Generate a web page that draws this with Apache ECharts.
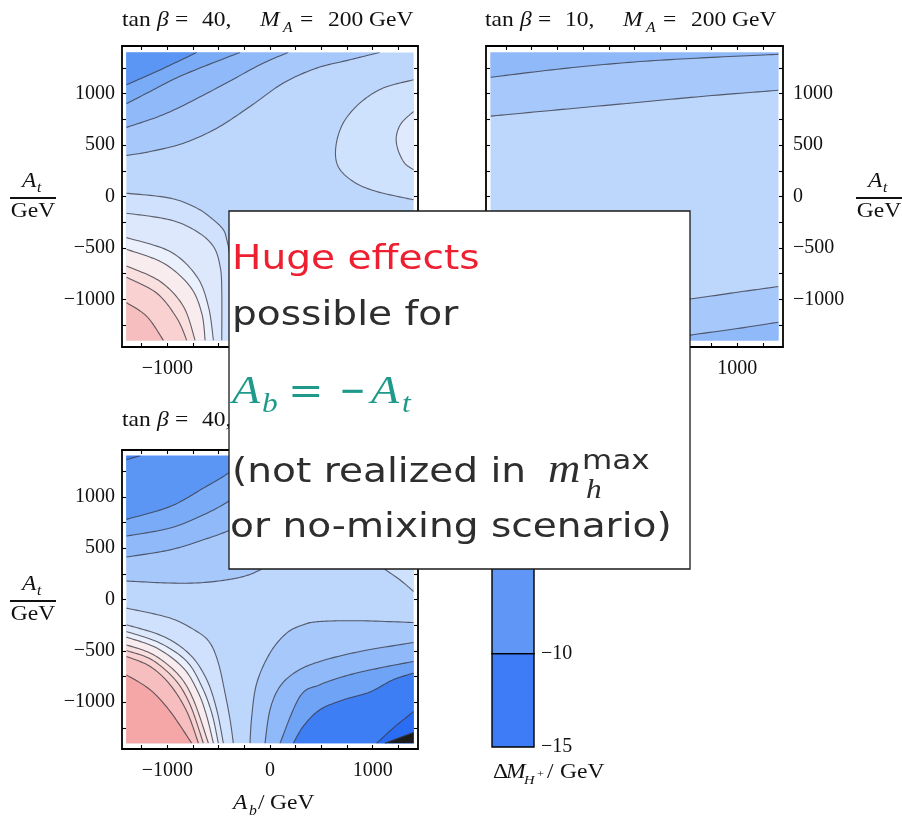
<!DOCTYPE html>
<html>
<head>
<meta charset="utf-8">
<script src="https://cdn.jsdelivr.net/npm/echarts@6/dist/echarts.min.js"></script>
<style>
  html, body { margin: 0; padding: 0; background: #fff; }
  #chart { width: 902px; height: 816px; }
</style>
</head>
<body>
<div id="chart"></div>
<script>
// Scan limits of A_b and A_t (GeV)
const EDGE = 1400;
const TL = [-EDGE, EDGE], TR = [EDGE, EDGE], BL = [-EDGE, -EDGE], BR = [EDGE, -EDGE];
const scanSquare = [BL, BR, TR, TL];

// Frame ticks and labels (GeV)
const tickValues = [-1250, -1000, -750, -500, -250, 0, 250, 500, 750, 1000, 1250];
const xLabelValues = [-1000, 0, 1000];
const yLabelValues = [-1000, -500, 0, 500, 1000];

// ---- tan β = 40, M_A = 200 GeV : contour lines, points [A_b, A_t] ----
const a_A  = [[-1400, 1085], [-1070, 1230], [-713, 1400]];
const a_B  = [[-1400, 900], [-1167, 1021], [-842, 1183], [-292, 1400]];
const a_C  = [[-1400, 671], [-1004, 810], [-518, 1053], [-97, 1280], [178, 1400]];
const a_D  = [[-1400, 398], [-1166, 437], [-842, 518], [-518, 664], [-194, 875], [130, 1102], [454, 1247], [778, 1328], [1069, 1400]];
const a_E  = [[1400, 1134], [1102, 1053], [875, 907], [713, 713], [642, 486], [664, 292], [810, 146], [1037, 49], [1400, -32]];
const a_F  = [[1400, 826], [1280, 713], [1231, 583], [1247, 454], [1312, 324], [1400, 259]];
const a_G  = [[-1400, 32], [-973, -16], [-713, -113], [-551, -227], [-454, -324], [-421, -421], [-395, -550], [-370, -800], [-355, -1100], [-350, -1400]];
const a_L1 = [[-1400, -162], [-973, -227], [-713, -340], [-551, -486], [-486, -680], [-470, -907], [-470, -1400]];
const a_L2 = [[-1400, -399], [-973, -535], [-713, -778], [-600, -1069], [-551, -1400]];
const a_L3 = [[-1400, -512], [-1037, -648], [-778, -875], [-665, -1134], [-632, -1400]];
const a_L4 = [[-1400, -674], [-1069, -826], [-843, -1069], [-729, -1400]];
const a_L5 = [[-1400, -784], [-1102, -940], [-907, -1183], [-810, -1400]];
const a_L6 = [[-1400, -1030], [-1199, -1166], [-1037, -1400]];

// ---- tan β = 10, M_A = 200 GeV ----
const b_T1 = [[-1400, 1158], [-700, 1242], [0, 1307], [700, 1349], [1400, 1381]];
const b_T2 = [[-1400, 781], [-700, 846], [0, 911], [700, 976], [1400, 1032]];
const b_B1 = [[-1400, -1250], [-700, -1130], [0, -1050], [540, -995], [1000, -930], [1400, -875]];
const b_B2 = [[220, -1400], [540, -1347], [1000, -1283], [1400, -1221]];

// ---- tan β = 40 (lower panel) ----
const c_A  = [[-1400, 1360], [-1265, 1400]];
const c_B  = [[-1400, 780], [-973, 905], [-649, 1084], [-406, 1230], [-200, 1400]];
const c_C  = [[-1400, 618], [-973, 695], [-649, 824], [-406, 953], [-200, 1100], [0, 1300], [80, 1400]];
const c_D  = [[-1400, 413], [-973, 483], [-649, 581], [-389, 678], [-200, 800], [0, 1000], [200, 1250], [320, 1400]];
const c_E  = [[-1400, 180], [-973, 160], [-649, 165], [-324, 208], [-129, 272], [0, 360], [150, 520], [300, 800], [450, 1100], [600, 1400]];
const c_F  = [[800, 1400], [830, 1100], [900, 750], [1000, 480], [1070, 338], [1265, 192], [1400, 78]];
const c_G  = [[-1400, -84], [-973, -181], [-713, -311], [-584, -424], [-503, -619], [-438, -911], [-389, -1170], [-357, -1400]];
const c_Q1 = [[-1400, -246], [-1038, -360], [-778, -538], [-616, -781], [-519, -1073], [-454, -1400]];
const c_Q2 = [[-1400, -311], [-1070, -425], [-811, -603], [-665, -846], [-567, -1106], [-503, -1400]];
const c_Q3 = [[-1400, -366], [-1102, -473], [-843, -668], [-697, -911], [-616, -1138], [-551, -1400]];
const c_Q4 = [[-1400, -441], [-1135, -538], [-892, -733], [-746, -976], [-600, -1400]];
const c_Q5 = [[-1400, -496], [-1151, -587], [-924, -781], [-778, -1025], [-649, -1400]];
const c_Q6 = [[-1400, -554], [-1167, -652], [-973, -830], [-811, -1089], [-697, -1400]];
const c_Q7 = [[-1400, -733], [-1167, -879], [-973, -1089], [-762, -1400]];
const c_R1 = [[-195, -1400], [-178, -1138], [-129, -813], [0, -521], [162, -327], [324, -246], [486, -214], [876, -207], [1400, -224]];
const c_R2 = [[-49, -1400], [0, -1073], [97, -846], [259, -700], [486, -603], [876, -506], [1400, -418]];
const c_R3 = [[97, -1400], [292, -943], [486, -830], [750, -740], [1050, -670], [1400, -603]];
const c_R4 = [[227, -1400], [324, -1235], [486, -1073], [720, -975], [973, -900], [1200, -781], [1400, -716]];
const c_R5 = [[1038, -1400], [1200, -1252], [1400, -1089]];
const c_R6 = [[1119, -1400], [1400, -1294]];

// ---- colour bar: ΔM_{H+} levels (GeV) ----
const barLevels = [-15, -10, -5, 0];
const barLabelValues = [-15, -10, -5, 0];

// Band fill colours
const PAL = {
  base: '#bdd7fc', b1: '#a7c8fa', b2: '#8fb9f8', b3: '#79abf6', b4: '#5c96f4', b5: '#4283f4',
  d3: '#6fa3f6', d4: '#3e7ef5', d5: '#2a6cf4', black: '#1c1c1c',
  lobe1: '#cfe2fd', lobe2: '#dfeafe',
  l1: '#cfe1fd', l2: '#dde8fd', l3: '#ebf0fd', l4: '#f8ecef', l5: '#fadfdf', l6: '#f9d1d1', l7: '#f6bebe', l8: '#f5a6a6'
};
const barColors = ['#3d7cf6', '#6097f6', '#8fb9f8'];

// Band lists: [contour, corners closing the region, colour key], painted in order
const aBands = [
  [scanSquare, null, 'base'],
  [a_D, [TL], 'b1'], [a_C, [TL], 'b2'], [a_B, [TL], 'b3'], [a_A, [TL], 'b4'],
  [a_E, [], 'lobe1'], [a_F, [], 'lobe2'],
  [a_G, [BL], 'l1'], [a_L1, [BL], 'l2'], [a_L2, [BL], 'l3'], [a_L3, [BL], 'l4'],
  [a_L4, [BL], 'l5'], [a_L5, [BL], 'l6'], [a_L6, [BL], 'l7']
];
const bBands = [
  [scanSquare, null, 'base'],
  [b_T2, [TR, TL], 'b1'], [b_T1, [TR, TL], 'b2'],
  [b_B1, [BR, BL], 'b1'], [b_B2, [BR], 'b2']
];
const cBands = [
  [scanSquare, null, 'base'],
  [c_E, [TL], 'b1'], [c_D, [TL], 'b2'], [c_C, [TL], 'b3'], [c_B, [TL], 'b4'], [c_A, [TL], 'b5'],
  [c_F, [TR], 'lobe1'],
  [c_G, [BL], 'l1'], [c_Q1, [BL], 'l2'], [c_Q2, [BL], 'l3'], [c_Q3, [BL], 'l4'],
  [c_Q4, [BL], 'l5'], [c_Q5, [BL], 'l6'], [c_Q6, [BL], 'l7'], [c_Q7, [BL], 'l8'],
  [c_R1, [BR], 'b1'], [c_R2, [BR], 'b2'], [c_R3, [BR], 'd3'], [c_R4, [BR], 'd4'],
  [c_R5, [BR], 'd5'], [c_R6, [BR], 'black']
];

const SERIF = 'Liberation Serif';
const SANS = 'DejaVu Sans';
const LINE_STROKE = 'rgba(60,60,70,0.8)';
const minus = v => (v < 0 ? '\u2212' + Math.abs(v) : String(v));

// Catmull-Rom sampling of a pixel polyline so the contour reads as a smooth curve
function smoothPoints(pts, steps) {
  if (pts.length < 3) return pts.slice();
  const out = [pts[0]];
  for (let i = 0; i < pts.length - 1; i++) {
    const p0 = pts[Math.max(i - 1, 0)], p1 = pts[i], p2 = pts[i + 1], p3 = pts[Math.min(i + 2, pts.length - 1)];
    for (let s = 1; s <= steps; s++) {
      const t = s / steps, t2 = t * t, t3 = t2 * t;
      out.push([0, 1].map(k => 0.5 * (2 * p1[k] + (p2[k] - p0[k]) * t +
        (2 * p0[k] - 5 * p1[k] + 4 * p2[k] - p3[k]) * t2 + (3 * p1[k] - p0[k] - 3 * p2[k] + p3[k]) * t3)));
    }
  }
  return out;
}

function contourSeries(idx, bands) {
  return {
    type: 'custom', coordinateSystem: 'cartesian2d',
    xAxisIndex: 2 * idx, yAxisIndex: 2 * idx, clip: false, silent: true,
    data: bands.map((b, i) => [0, 0, i]),
    encode: { x: 0, y: 1 },
    renderItem(params, api) {
      const [line, corners, key] = bands[api.value(2)];
      const tl = api.coord(TL), br = api.coord(BR);
      const px = line.map(p => api.coord(p));
      const straight = corners === null;
      const curve = straight ? px : smoothPoints(px, 14);
      const poly = curve.concat((corners || []).map(p => api.coord(p)));
      const children = [{
        type: 'polygon', shape: { points: poly },
        style: { fill: PAL[key], stroke: PAL[key], lineWidth: 0.6 }
      }];
      if (!straight) {
        children.push({ type: 'polyline', shape: { points: curve },
          style: { fill: null, stroke: LINE_STROKE, lineWidth: 1.1 } });
      }
      return {
        type: 'group',
        clipPath: { type: 'rect', shape: { x: tl[0], y: tl[1], width: br[0] - tl[0], height: br[1] - tl[1] } },
        children
      };
    }
  };
}

// Panel frames: grid rectangles and axis half-ranges
const panels = [
  { left: 122, top: 46, width: 296, height: 301, xr: 1442, yr: 1462, yLab: 'left' },
  { left: 486, top: 46, width: 297, height: 301, xr: 1444, yr: 1462, yLab: 'right' },
  { left: 122, top: 450, width: 296, height: 299, xr: 1442, yr: 1455, yLab: 'left' }
];

const labelFont = { fontFamily: SERIF, fontSize: 20, color: '#111' };
const frameLine = { show: true, onZero: false, lineStyle: { color: '#000', width: 1.8 } };
const frameTick = { show: true, inside: true, length: 4, customValues: tickValues, lineStyle: { color: '#000', width: 1.1 } };

const grids = [], xAxes = [], yAxes = [];
panels.forEach((p, i) => {
  grids.push({ left: p.left, top: p.top, width: p.width, height: p.height, outerBoundsMode: 'none' });
  ['bottom', 'top'].forEach(pos => xAxes.push({
    type: 'value', gridIndex: i, position: pos, min: -p.xr, max: p.xr,
    axisLine: frameLine, axisTick: frameTick, splitLine: { show: false },
    axisLabel: Object.assign({ show: pos === 'bottom', customValues: xLabelValues, formatter: minus, margin: 12 }, labelFont)
  }));
  ['left', 'right'].forEach(pos => yAxes.push({
    type: 'value', gridIndex: i, position: pos, min: -p.yr, max: p.yr,
    axisLine: frameLine, axisTick: frameTick, splitLine: { show: false },
    axisLabel: Object.assign({ show: pos === p.yLab, customValues: yLabelValues, formatter: minus,
      margin: pos === 'left' ? 7 : 10 }, labelFont)
  }));
});
// colour bar
grids.push({ left: 492, top: 467, width: 42, height: 280, outerBoundsMode: 'none' });
xAxes.push({ type: 'value', gridIndex: 3, min: 0, max: 1, show: false });
yAxes.push({
  type: 'value', gridIndex: 3, position: 'right', min: barLevels[0], max: barLevels[barLevels.length - 1],
  axisLine: { show: false }, axisTick: { show: false }, splitLine: { show: false },
  axisLabel: Object.assign({ customValues: barLabelValues, formatter: minus, margin: 7 }, labelFont)
});

const barSeries = {
  type: 'custom', coordinateSystem: 'cartesian2d', xAxisIndex: 6, yAxisIndex: 6, silent: true,
  data: barLevels.slice(0, -1).map((lo, i) => [0, lo, i]),
  encode: { x: 0, y: 1 },
  renderItem(params, api) {
    const i = api.value(2);
    const a = api.coord([0, barLevels[i + 1]]), b = api.coord([1, barLevels[i]]);
    return { type: 'rect', shape: { x: a[0], y: a[1], width: b[0] - a[0], height: b[1] - a[1] },
      style: { fill: barColors[i], stroke: '#000', lineWidth: 1.4 } };
  }
};

// ---- text pieces ----
const SX = 1.12;
function txt(str, x, base, o = {}) {
  const size = o.size || 21;
  return {
    type: 'text', x, y: base - 0.34 * size, scaleX: o.sx || SX, z: o.z || 50,
    style: {
      text: str, fill: o.color || '#111', fontFamily: o.family || SERIF, fontSize: size,
      fontStyle: o.italic ? 'italic' : 'normal', textAlign: o.align || 'left', textVerticalAlign: 'middle'
    }
  };
}
function title(x0, base, tanb, ma) {
  const els = [
    txt('tan', x0, base), txt('\u03b2', x0 + 35, base, { italic: true }),
    txt('=', x0 + 53, base), txt(tanb + ',', x0 + 80, base)
  ];
  if (ma) {
    els.push(txt('M', x0 + 138, base, { italic: true }), txt('A', x0 + 161, base + 5, { italic: true, size: 14 }),
      txt('=', x0 + 178, base), txt(ma, x0 + 206, base), txt('GeV', x0 + 247, base));
  }
  return els;
}
function fraction(cx, top) {
  return [
    txt('A', cx - 11, top, { italic: true }), txt('t', cx + 4, top + 4, { italic: true, size: 14 }),
    { type: 'line', shape: { x1: cx - 23, y1: top + 9, x2: cx + 23, y2: top + 9 }, style: { stroke: '#111', lineWidth: 2.2 }, z: 50 },
    txt('GeV', cx, top + 30, { align: 'center' })
  ];
}

const BOX_SX = 1.15, INK = '#2e2e2e', TEAL = '#1f9a8a';
const boxEls = [
  { type: 'rect', shape: { x: 229, y: 211, width: 461, height: 358 }, style: { fill: '#fff', stroke: '#1a1a1a', lineWidth: 1.3 }, z: 100 },
  txt('Huge effects', 232, 272, { family: SANS, size: 34, sx: BOX_SX, color: '#ee1f30', z: 110 }),
  txt('possible for', 232, 328, { family: SANS, size: 34, sx: BOX_SX, color: INK, z: 110 }),
  txt('A', 232, 406, { size: 41, italic: true, color: TEAL, z: 110 }),
  txt('b', 262, 414, { size: 28, italic: true, color: TEAL, z: 110 }),
  txt('=', 288, 406, { family: SANS, size: 38, color: TEAL, z: 110 }),
  txt('\u2212', 339, 406, { family: SANS, size: 38, sx: 0.85, color: TEAL, z: 110 }),
  txt('A', 371, 406, { size: 41, italic: true, color: TEAL, z: 110 }),
  txt('t', 402, 414, { size: 28, italic: true, color: TEAL, z: 110 }),
  txt('(not realized in', 232, 485, { family: SANS, size: 34, sx: BOX_SX, color: INK, z: 110 }),
  txt('m', 548, 485, { size: 40, italic: true, color: INK, z: 110 }),
  txt('h', 586, 500, { size: 28, italic: true, color: INK, z: 110 }),
  txt('max', 582, 471, { family: SANS, size: 27, sx: BOX_SX, color: INK, z: 110 }),
  txt('or no-mixing scenario)', 230, 540, { family: SANS, size: 34, sx: BOX_SX, color: INK, z: 110 })
];

const labelEls = [].concat(
  title(122, 28, '40', '200'),
  title(485, 28, '10', '200'),
  title(122, 428, '40', null),
  fraction(33, 189),
  fraction(879, 189),
  fraction(33, 592),
  [
    txt('A', 233, 811, { italic: true }), txt('b', 249, 816, { italic: true, size: 14 }),
    txt('/', 258, 811), txt('GeV', 270, 811),
    txt('\u0394', 493, 780), txt('M', 506, 780, { italic: true }),
    txt('H', 524, 785, { italic: true, size: 13 }), txt('+', 537, 778, { size: 11 }),
    txt('/', 547, 780), txt('GeV', 560, 780)
  ]
);

const chart = echarts.init(document.getElementById('chart'), null, { renderer: 'canvas' });
chart.setOption({
  animation: false,
  backgroundColor: '#fff',
  grid: grids,
  xAxis: xAxes,
  yAxis: yAxes,
  series: [contourSeries(0, aBands), contourSeries(1, bBands), contourSeries(2, cBands), barSeries],
  graphic: { elements: labelEls.concat(boxEls) }
});
</script>
</body>
</html>
